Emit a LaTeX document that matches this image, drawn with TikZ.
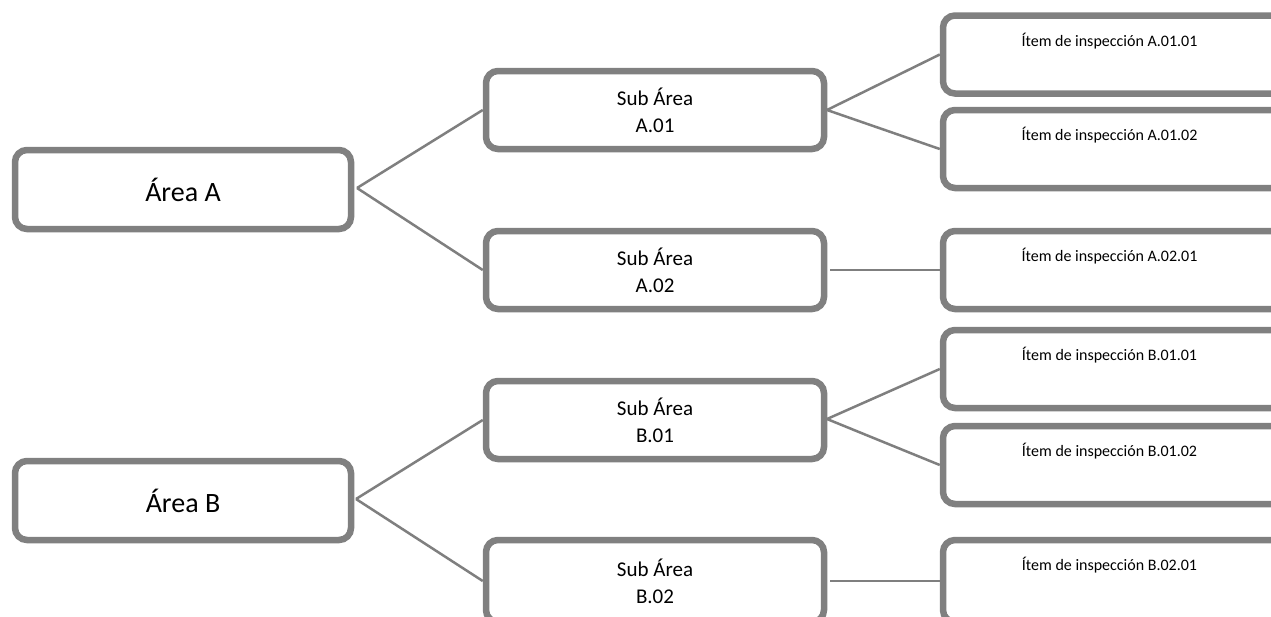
\documentclass[tikz,border=0pt]{standalone}
\usepackage{fontspec}
\setmainfont{Carlito}
\definecolor{boxgray}{RGB}{128,128,128}
\definecolor{linegray}{RGB}{127,127,127}
\tikzset{
  areabox/.style={draw=boxgray, line width=6.5pt, rounded corners=12pt, fill=white,
    minimum width=336pt, minimum height=79pt, inner sep=0pt,
    font=\fontsize{28}{32}\selectfont},
  subbox/.style={draw=boxgray, line width=6.5pt, rounded corners=12pt, fill=white,
    minimum width=338pt, minimum height=78pt, inner sep=0pt, align=center,
    font=\fontsize{21}{27}\selectfont},
  itembox/.style={draw=boxgray, line width=6.5pt, rounded corners=12pt, fill=white,
    minimum width=345pt, minimum height=78pt, inner sep=0pt},
  itemtext/.style={font=\fontsize{16}{19}\selectfont, anchor=base, yshift=-34pt, xshift=-6pt},
  conn/.style={draw=linegray, line width=2.5pt}
}
\begin{document}
\begin{tikzpicture}[x=1pt,y=-1pt]
\useasboundingbox (0,0) rectangle (1271,616);
\clip (0,0) rectangle (1271,616);
\fill[white] (0,0) rectangle (1271,616);
% connector start points
\coordinate (cA) at (357,188);
\coordinate (cB) at (356,499);
\coordinate (cA01) at (827,110);
\coordinate (cB01) at (827,419);
% Areas
\node[areabox] (areaA) at (183,189.5) {Área A};
\node[areabox] (areaB) at (183,500.5) {Área B};
% Sub areas
\node[subbox] (subA01) at (655,110) {Sub Área\\A.01};
\node[subbox] (subA02) at (655,270) {Sub Área\\A.02};
\node[subbox] (subB01) at (655,420) {Sub Área\\B.01};
\node[subbox, minimum height=82pt] (subB02) at (655,581) {Sub Área\\B.02};
% Items (left edge at 943)
\node[itembox, label={[itemtext]north:Ítem de inspección A.01.01}] (iA0101) at (1115.5,54.5) {};
\node[itembox, label={[itemtext]north:Ítem de inspección A.01.02}] (iA0102) at (1115.5,149) {};
\node[itembox, label={[itemtext]north:Ítem de inspección A.02.01}] (iA0201) at (1115.5,270) {};
\node[itembox, label={[itemtext]north:Ítem de inspección B.01.01}] (iB0101) at (1115.5,369) {};
\node[itembox, label={[itemtext]north:Ítem de inspección B.01.02}] (iB0102) at (1115.5,465) {};
\node[itembox, minimum height=82pt, label={[itemtext]north:Ítem de inspección B.02.01}] (iB0201) at (1115.5,581) {};
% connectors
\draw[conn] (cA) -- (subA01.west);
\draw[conn] (cA) -- (subA02.west);
\draw[conn] (cB) -- (subB01.west);
\draw[conn] (cB) -- (subB02.west);
\draw[conn] (cA01) -- (iA0101.west);
\draw[conn] (cA01) -- (iA0102.west);
\draw[conn] ([xshift=3pt]subA02.east) -- (iA0201.west);
\draw[conn] (cB01) -- (iB0101.west);
\draw[conn] (cB01) -- (iB0102.west);
\draw[conn] ([xshift=3pt]subB02.east) -- (iB0201.west);
\end{tikzpicture}
\end{document}
